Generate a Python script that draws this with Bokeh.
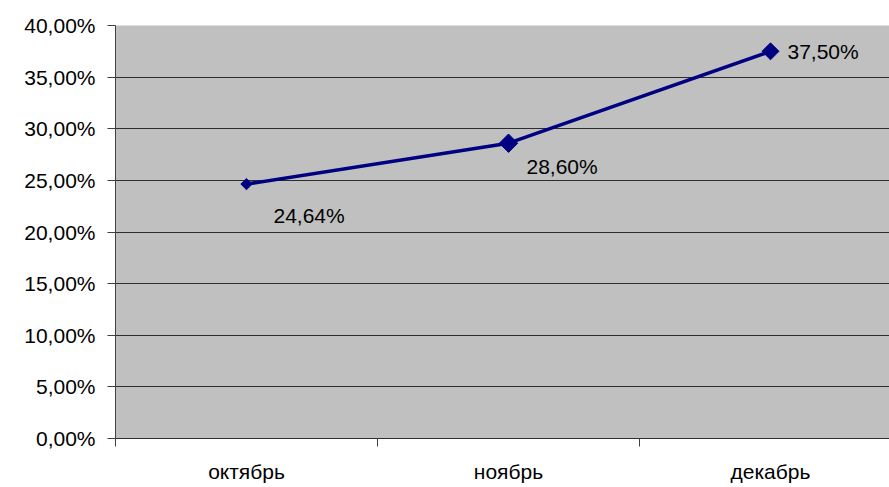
import math
from bokeh.plotting import figure
from bokeh.models import Range1d, FixedTicker, ColumnDataSource
from bokeh.core.properties import value
from bokeh.embed import file_html
from bokeh.resources import INLINE

months = ["октябрь", "ноябрь", "декабрь"]
shares = [0.2464, 0.2860, 0.3750]
point_labels = ["24,64%", "28,60%", "37,50%"]
y_ticks = [0.0, 0.05, 0.10, 0.15, 0.20, 0.25, 0.30, 0.35, 0.40]
y_tick_labels = ["0,00%", "5,00%", "10,00%", "15,00%", "20,00%",
                 "25,00%", "30,00%", "35,00%", "40,00%"]

FONT = "Liberation Sans"
FSIZE = "21px"
NAVY = "#000080"

xs = [i + 0.5 for i in range(len(months))]
marker_sizes = [8, 13, 12]
lab_dx = [27, 18, 17]
lab_dy = [31, 23, 0]

src = ColumnDataSource(dict(x=xs, y=shares, lab=point_labels, size=marker_sizes,
                            dx=lab_dx, dy=lab_dy))

p = figure(width=889, height=487, output_backend="svg", toolbar_location=None,
           x_range=Range1d(0, 774 / 262), y_range=Range1d(0, 0.40),
           min_border_left=115, min_border_right=0, min_border_top=25,
           min_border_bottom=49)
p.background_fill_color = "#C0C0C0"
p.border_fill_color = "white"
p.outline_line_color = None

p.xgrid.grid_line_color = None
p.ygrid.grid_line_color = "#2e2e2e"
p.ygrid.grid_line_width = 1
p.ygrid.ticker = FixedTicker(ticks=y_ticks)

p.yaxis.ticker = FixedTicker(ticks=y_ticks)
p.yaxis.major_label_overrides = {t: l for t, l in zip(y_ticks, y_tick_labels)}
p.yaxis.major_tick_out = 8
p.yaxis.major_tick_in = 0
p.yaxis.minor_tick_line_color = None
p.yaxis.major_label_standoff = 12
p.yaxis.axis_line_color = "#404040"
p.yaxis.major_tick_line_color = "#404040"

p.xaxis.ticker = FixedTicker(ticks=xs, minor_ticks=[0, 1, 2, 3])
p.xaxis.major_label_overrides = {x: m for x, m in zip(xs, months)}
p.xaxis.major_tick_line_color = None
p.xaxis.minor_tick_out = 8
p.xaxis.minor_tick_in = 0
p.xaxis.minor_tick_line_color = "#404040"
p.xaxis.axis_line_color = "#2e2e2e"
p.xaxis.major_label_standoff = 13

for ax in (p.xaxis, p.yaxis):
    ax.major_label_text_font = FONT
    ax.major_label_text_font_size = FSIZE
    ax.major_label_text_color = "black"

p.line("x", "y", source=src, line_color=NAVY, line_width=3.5)
p.scatter("x", "y", source=src, marker="square", angle=math.pi / 4, size="size",
          fill_color=NAVY, line_color=NAVY)
p.text("x", "y", text="lab", source=src, x_offset="dx", y_offset="dy",
       text_font=value(FONT), text_font_size=FSIZE, text_color="black",
       text_align="left", text_baseline="middle")

open("out.html", "w").write(file_html(p, INLINE))
